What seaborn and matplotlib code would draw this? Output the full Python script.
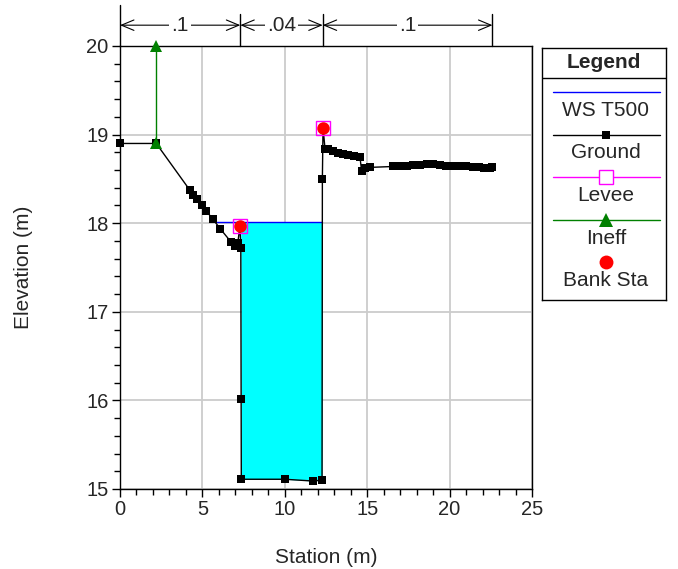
import numpy as np
import pandas as pd
import matplotlib
matplotlib.use("Agg")
import matplotlib.pyplot as plt
import seaborn as sns

# --- data ---
ground_sta = [0.0, 2.2, 4.25, 4.45, 4.65, 4.96, 5.22, 5.62, 6.07, 6.73, 6.98, 7.15, 7.28,
              7.33, 7.35, 7.36, 10.0, 11.7, 12.26, 12.28, 12.32, 12.44, 12.6, 12.9, 13.25,
              13.55, 13.83, 14.2, 14.56, 14.66, 14.85, 15.17, 16.58, 16.9, 17.39, 17.8,
              18.2, 18.6, 19.01, 19.4, 19.8, 20.2, 20.63, 21.0, 21.44, 21.8, 22.1, 22.45, 22.6]
ground_elev = [18.9, 18.9, 18.37, 18.32, 18.27, 18.20, 18.14, 18.05, 17.94, 17.79, 17.74,
               17.78, 17.97, 17.72, 16.02, 15.11, 15.11, 15.09, 15.10, 18.50, 19.08, 18.84,
               18.84, 18.81, 18.79, 18.78, 18.77, 18.76, 18.75, 18.59, 18.62, 18.63, 18.64,
               18.64, 18.65, 18.66, 18.66, 18.67, 18.67, 18.66, 18.65, 18.64, 18.64, 18.64,
               18.63, 18.63, 18.62, 18.62, 18.63]
ws_elev = 18.01
ws_sta = [5.74, 12.26]
levee_sta = [7.28, 12.32]
levee_elev = [17.97, 19.08]
bank_sta = [7.28, 12.32]
bank_elev = [17.97, 19.08]
ineff_sta = [2.2, 2.2]
ineff_elev = [18.9, 20.0]
n_sta = [0.0, 7.3, 12.3, 22.6]
n_vals = [".1", ".04", ".1"]

sns.set_style("white")
plt.rcParams["font.family"] = ["Liberation Sans", "DejaVu Sans"]
plt.rcParams["font.size"] = 15

fig = plt.figure(figsize=(6.78, 5.69), dpi=100)
ax = fig.add_axes([120 / 678, 80 / 569, 412 / 678, 443 / 569])

ground = pd.DataFrame({"sta": ground_sta, "elev": ground_elev})

# water fill between ground and WS inside the channel
ch = ground[(ground.sta >= 7.33) & (ground.sta <= 12.28)]
ax.fill_between(ch.sta, ch.elev, ws_elev, where=ch.elev <= ws_elev, interpolate=True,
                color="#00ffff", lw=0, zorder=2)
ax.plot(ws_sta, [ws_elev, ws_elev], color="#0000ff", lw=1, zorder=3)

sns.lineplot(data=ground, x="sta", y="elev", sort=False, estimator=None, ax=ax,
             color="black", lw=1, marker="s", markersize=5.8, markeredgewidth=0,
             zorder=4, clip_on=False)
sns.lineplot(x=ineff_sta, y=ineff_elev, sort=False, estimator=None, ax=ax,
             color="#008000", lw=1, marker="^", markersize=9, markeredgewidth=0,
             zorder=5, clip_on=False)
ax.plot(levee_sta, levee_elev, ls="none", marker="s", markersize=10, mfc="none",
        mec="#ff00ff", mew=1, zorder=5)
ax.plot(bank_sta, bank_elev, ls="none", marker="o", markersize=9, color="red",
        mew=0, zorder=6)

ax.set_xlim(0, 25)
ax.set_ylim(15, 20)
ax.set_xticks([0, 5, 10, 15, 20, 25])
ax.set_yticks([15, 16, 17, 18, 19, 20])
ax.set_xticks(np.arange(0, 26, 1), minor=True)
ax.set_yticks(np.arange(15, 20.01, 0.2), minor=True)
ax.grid(True, which="major", color="#cccccc", lw=1.3, zorder=0)
ax.set_axisbelow(True)
ax.tick_params(which="major", direction="out", length=5.5, width=1, color="black",
               labelsize=14.5, bottom=True, left=True, pad=2.7)
ax.tick_params(which="minor", direction="out", length=4.3, width=1, color="black",
               bottom=True, left=True)
for s in ax.spines.values():
    s.set_color("black")
    s.set_linewidth(1)

ax.set_xlabel("Station (m)", fontsize=15)
ax.set_ylabel("Elevation (m)", fontsize=15)
ax.xaxis.set_label_coords(0.5, -(548 - 489) / 443)
ax.yaxis.set_label_coords((33 - 120) / 412, 0.5)

# Manning's n annotations above the plot
ax.plot([0, 0], [20, 20.46], color="black", lw=1, clip_on=False)
for s in n_sta[1:]:
    ax.plot([s, s], [20, 20.36], color="black", lw=1, clip_on=False)
for i, v in enumerate(n_vals):
    x0, x1 = n_sta[i], n_sta[i + 1]
    ax.annotate("", xy=(x0, 20.235), xytext=(x1, 20.235), annotation_clip=False,
                arrowprops=dict(arrowstyle="<->,head_length=0.6,head_width=0.25",
                                color="black", lw=0.8, shrinkA=0, shrinkB=0))
    ax.text((x0 + x1) / 2, 20.235, v, ha="center", va="center", fontsize=15,
            bbox=dict(facecolor="white", edgecolor="none", pad=1.5), clip_on=False)

# legend box
lg = fig.add_axes([542 / 678, (569 - 300) / 569, 124 / 678, 252 / 569])
lg.set_xlim(542, 666)
lg.set_ylim(300, 48)
lg.set_xticks([])
lg.set_yticks([])
for s in lg.spines.values():
    s.set_color("black")
    s.set_linewidth(1)
lg.text(604, 63, "Legend", ha="center", va="center", fontsize=15, fontweight="bold")
lg.plot([542, 666], [77.5, 77.5], color="black", lw=1)
entries = [
    ("WS T500", dict(color="#0000ff", lw=1), None),
    ("Ground", dict(color="black", lw=1), dict(marker="s", markersize=6, color="black", mew=0)),
    ("Levee", dict(color="#ff00ff", lw=1), dict(marker="s", markersize=10, mfc="white", mec="#ff00ff", mew=1)),
    ("Ineff", dict(color="#008000", lw=1), dict(marker="^", markersize=10, color="#008000", mew=0)),
    ("Bank Sta", None, dict(marker="o", markersize=10, color="red", mew=0)),
]
for i, (lab, line_kw, mk_kw) in enumerate(entries):
    yl = 92 + i * 42.5
    if line_kw:
        lg.plot([553, 660], [yl, yl], **line_kw)
    if mk_kw:
        lg.plot([606], [yl], ls="none", **mk_kw)
    lg.text(606, yl + 18.5, lab, ha="center", va="center", fontsize=15)

fig.savefig("out.png", dpi=100)
